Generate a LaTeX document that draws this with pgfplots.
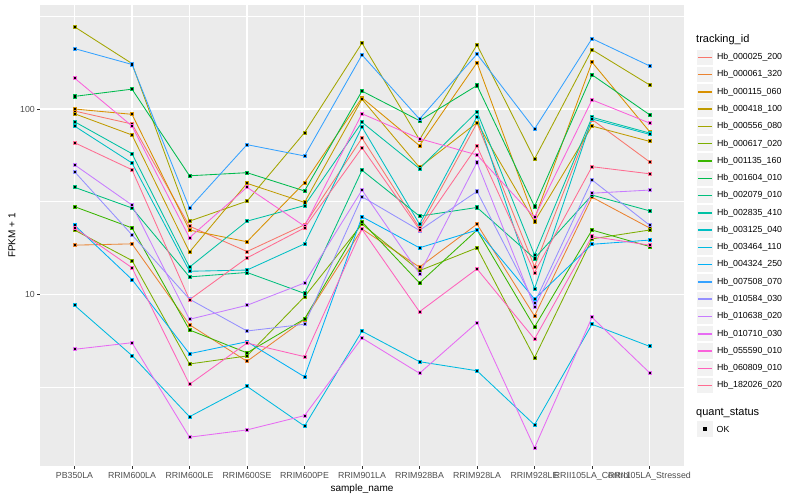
\documentclass[border=0pt]{standalone}
\usepackage{fontspec}
\setmainfont{Liberation Sans}
\usepackage{pgfplots}
\usepackage{pgfplotstable}
\pgfplotsset{compat=1.18}

% ggplot2 hue palette, 20 levels
\definecolor{c1}{HTML}{F8766D}
\definecolor{c2}{HTML}{EA8331}
\definecolor{c3}{HTML}{D89000}
\definecolor{c4}{HTML}{C09B00}
\definecolor{c5}{HTML}{A3A500}
\definecolor{c6}{HTML}{7CAE00}
\definecolor{c7}{HTML}{39B600}
\definecolor{c8}{HTML}{00BB4E}
\definecolor{c9}{HTML}{00BF7D}
\definecolor{c10}{HTML}{00C1A3}
\definecolor{c11}{HTML}{00BFC4}
\definecolor{c12}{HTML}{00BAE0}
\definecolor{c13}{HTML}{00B0F6}
\definecolor{c14}{HTML}{35A2FF}
\definecolor{c15}{HTML}{9590FF}
\definecolor{c16}{HTML}{C77CFF}
\definecolor{c17}{HTML}{E76BF3}
\definecolor{c18}{HTML}{FA62DB}
\definecolor{c19}{HTML}{FF62BC}
\definecolor{c20}{HTML}{FF6C91}
\definecolor{panel}{HTML}{EBEBEB}
\definecolor{keybg}{HTML}{F2F2F2}
\definecolor{ticktext}{HTML}{4D4D4D}
\definecolor{tickline}{HTML}{333333}

% FPKM + 1, one row per sample, one column per gene
\pgfplotstableread{
x  s1   s2    s3   s4   s5   s6    s7    s8   s9   s10  s11  s12   s13   s14  s15   s16   s17   s18   s19   s20
0  97.5 18.4  100  94.3 278  22.2  29.7  117  37.8 85.4 80.9 8.71  23.6  212  45.9  50.0  5.04  147   22.8  65.8
1  83.0 18.7  93.6 72.4 176  15.2  22.8  128  29.2 57.4 51.1 4.66  12.0  174  20.9  30.3  5.47  80.9  13.9  47.0
2  23.3 6.84  22.2 16.9 24.8 4.20  6.41  43.6 12.4 14.0 13.3 2.18  4.77  29.2 9.40  7.32  1.69  20.2  3.26  9.34
3  17.0 4.34  19.2 39.7 31.8 4.64  4.82  45.3 13.1 24.8 13.5 3.18  5.54  64.2 6.33  8.71  1.85  37.8  5.45  15.7
4  23.7 7.30  40.0 31.3 74.5 9.69  7.35  36.1 10.1 30.1 18.7 1.94  3.58  55.8 6.88  11.5  2.21  23.3  4.60  22.8
5  69.7 22.5  115  113  227  23.9  24.6  125  46.7 84.8 80.0 6.31  26.2  196  33.6  36.5  5.80  94.3  22.4  61.8
6  22.8 14.0  63.4 48.4 68.3 13.4  11.5  86.5 26.4 47.6 23.9 4.32  17.8  88.3 22.1  12.9  3.74  69.2  8.04  22.3
7  84.0 23.9  178  84.4 222  17.8  22.2  134  29.4 96.7 90.9 3.86  22.2  198  35.9  51.5  7.02  56.5  13.7  62.9
8  14.1 7.63  25.5 24.7 53.7 4.54  6.65  29.8 15.6 16.3 10.7 1.97  9.42  78.0 8.97  8.53  1.48  26.0  5.73  13.1
9  87.8 33.4  179  80.9 209  19.9  22.2  153  34.3 90.2 88.3 6.88  18.6  240  41.4  35.1  7.50  112   20.5  48.8
10 51.9 22.8  75.6 66.9 135  22.2  18.1  93.2 28.2 74.2 73.0 5.23  19.6  171  23.6  36.5  3.77  84.0  18.4  44.7
}\fpkm

\pgfplotsset{
  ser/.style={line width=0.85pt, mark=square*, mark size=1.55pt,
    mark options={draw=none, fill=black}},
}

\begin{document}
\begin{tikzpicture}[x=1pt, y=1pt]
\begin{axis}[
  at={(40pt,34pt)}, anchor=south west,
  scale only axis, width=644pt, height=461pt,
  set layers, mark layer=axis foreground,
  xmin=-0.6, xmax=10.6,
  ymode=log, ymin=1.181, ymax=364.5,
  axis background/.style={fill=panel},
  axis line style={draw=none},
  grid=both,
  major grid style={white, line width=1.07pt},
  minor grid style={white, line width=0.53pt},
  xtick={0,...,10},
  xticklabels={PB350LA, RRIM600LA, RRIM600LE, RRIM600SE, RRIM600PE, RRIM901LA,
    RRIM928BA, RRIM928LA, RRIM928LE, RRII105LA\_Control, RRII105LA\_Stressed},
  ytick={10,100}, yticklabels={10,100},
  minor ytick={3.162,31.62,316.2},
  tick pos=left, tick align=outside,
  major tick length=2.75pt, minor tick length=0pt,
  tick style={tickline, line width=0.53pt},
  tick label style={font=\fontsize{8.8}{10}\selectfont, text=ticktext},
  xticklabel style={anchor=base, inner sep=0pt, yshift=-10pt},
  yticklabel style={anchor=east, inner sep=0pt, xshift=-2.2pt},
  xlabel={sample\_name}, ylabel={FPKM + 1},
  label style={font=\fontsize{11}{13}\selectfont},
  every axis x label/.style={at={(axis description cs:0.5,-0.0564)}, anchor=base},
  every axis y label/.style={at={(axis description cs:-0.0435,0.5)}, rotate=90, anchor=center},
]
\addplot[ser, c1]  table[x=x, y=s1]  {\fpkm};
\addplot[ser, c2]  table[x=x, y=s2]  {\fpkm};
\addplot[ser, c3]  table[x=x, y=s3]  {\fpkm};
\addplot[ser, c4]  table[x=x, y=s4]  {\fpkm};
\addplot[ser, c5]  table[x=x, y=s5]  {\fpkm};
\addplot[ser, c6]  table[x=x, y=s6]  {\fpkm};
\addplot[ser, c7]  table[x=x, y=s7]  {\fpkm};
\addplot[ser, c8]  table[x=x, y=s8]  {\fpkm};
\addplot[ser, c9]  table[x=x, y=s9]  {\fpkm};
\addplot[ser, c10] table[x=x, y=s10] {\fpkm};
\addplot[ser, c11] table[x=x, y=s11] {\fpkm};
\addplot[ser, c12] table[x=x, y=s12] {\fpkm};
\addplot[ser, c13] table[x=x, y=s13] {\fpkm};
\addplot[ser, c14] table[x=x, y=s14] {\fpkm};
\addplot[ser, c15] table[x=x, y=s15] {\fpkm};
\addplot[ser, c16] table[x=x, y=s16] {\fpkm};
\addplot[ser, c17] table[x=x, y=s17] {\fpkm};
\addplot[ser, c18] table[x=x, y=s18] {\fpkm};
\addplot[ser, c19] table[x=x, y=s19] {\fpkm};
\addplot[ser, c20] table[x=x, y=s20] {\fpkm};
\end{axis}
% legend: tracking_id
\node[anchor=base west, inner sep=0pt, font=\fontsize{11}{13}\selectfont] at (696,457) {tracking\_id};
\foreach \c/\t [count=\i from 0] in {
  c1/Hb\_000025\_200, c2/Hb\_000061\_320, c3/Hb\_000115\_060, c4/Hb\_000418\_100,
  c5/Hb\_000556\_080, c6/Hb\_000617\_020, c7/Hb\_001135\_160, c8/Hb\_001604\_010,
  c9/Hb\_002079\_010, c10/Hb\_002835\_410, c11/Hb\_003125\_040, c12/Hb\_003464\_110,
  c13/Hb\_004324\_250, c14/Hb\_007508\_070, c15/Hb\_010584\_030, c16/Hb\_010638\_020,
  c17/Hb\_010710\_030, c18/Hb\_055590\_010, c19/Hb\_060809\_010, c20/Hb\_182026\_020} {
  \pgfmathsetmacro{\yy}{442.7-17.28*\i}
  \fill[keybg] (697.3,\yy-7.65) rectangle (712.6,\yy+7.65);
  \draw[\c, line width=1.5pt] (697.9,\yy) -- (712.0,\yy);
  \node[anchor=west, inner sep=0pt, font=\fontsize{8.8}{10}\selectfont] at (716.8,\yy) {\t};
}
% legend: quant_status
\node[anchor=base west, inner sep=0pt, font=\fontsize{11}{13}\selectfont] at (696,84) {quant\_status};
\fill[keybg] (697.3,63.3) rectangle (712.6,78.6);
\fill[black] (703.3,69.3) rectangle (706.6,72.6);
\node[anchor=west, inner sep=0pt, font=\fontsize{8.8}{10}\selectfont] at (716.5,70.9) {OK};
% page frame
\path (0,0) rectangle (800,500);
\end{tikzpicture}
\end{document}
